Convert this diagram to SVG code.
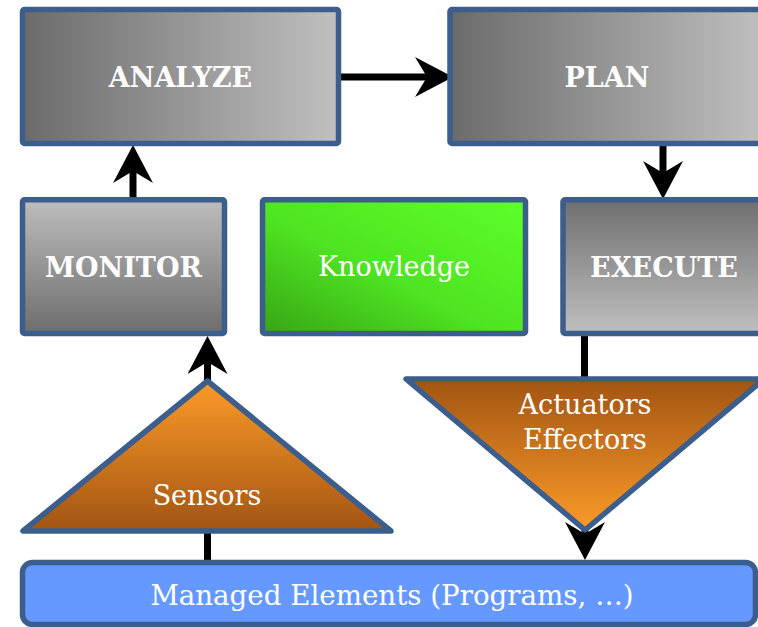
<svg xmlns="http://www.w3.org/2000/svg" width="758" height="627" viewBox="0 0 758 627">
<defs>
<linearGradient id="gH" x1="0" y1="0" x2="1" y2="0"><stop offset="0" stop-color="#6b6b6b"/><stop offset="1" stop-color="#c0c0c0"/></linearGradient>
<linearGradient id="gDown" x1="0" y1="0" x2="0" y2="1"><stop offset="0" stop-color="#bdbdbd"/><stop offset="1" stop-color="#6d6d6d"/></linearGradient>
<linearGradient id="gUp" x1="0" y1="0" x2="0" y2="1"><stop offset="0" stop-color="#6f6f6f"/><stop offset="1" stop-color="#bfbfbf"/></linearGradient>
<linearGradient id="gGreen" x1="1" y1="0" x2="0" y2="1"><stop offset="0" stop-color="#5dff2a"/><stop offset="0.55" stop-color="#4ee421"/><stop offset="1" stop-color="#37a515"/></linearGradient>
<linearGradient id="gSens" x1="0" y1="0" x2="0" y2="1"><stop offset="0" stop-color="#fb9b28"/><stop offset="1" stop-color="#a25413"/></linearGradient>
<linearGradient id="gAct" x1="0" y1="0" x2="0" y2="1"><stop offset="0" stop-color="#a25413"/><stop offset="1" stop-color="#fb9b28"/></linearGradient>
<marker id="arr" viewBox="0 0 38 40" refX="12" refY="20" markerWidth="38" markerHeight="40" markerUnits="userSpaceOnUse" orient="auto"><path d="M38,20 L0,0 L12,20 L0,40 Z" fill="#000"/></marker>
</defs>
<style>
.box{stroke:#3b5e8c;stroke-width:5.5;stroke-linejoin:round}
.conn{stroke:#000;stroke-width:7;fill:none}
.b{font-family:"DejaVu Serif",serif;font-weight:bold;font-size:27px;fill:#fff;text-anchor:middle}
.r{font-family:"DejaVu Serif",serif;font-size:27px;fill:#fff;text-anchor:middle}
</style>
<g id="connectors">
<line class="conn" x1="341" y1="77" x2="427" y2="77" marker-end="url(#arr)"/>
<line class="conn" x1="663" y1="146" x2="663" y2="173" marker-end="url(#arr)"/>
<line class="conn" x1="133" y1="198" x2="133" y2="171" marker-end="url(#arr)"/>
<line class="conn" x1="207.5" y1="382" x2="207.5" y2="362" marker-end="url(#arr)"/>
<line class="conn" x1="207.5" y1="530" x2="207.5" y2="563"/>
<line class="conn" x1="584.5" y1="334" x2="584.5" y2="381"/>
<line class="conn" x1="585" y1="528" x2="585" y2="534" marker-end="url(#arr)"/>
</g>
<g id="analyze"><rect class="box" x="22.5" y="9.5" width="316" height="134" rx="2" fill="url(#gH)"/><text class="b" x="180.5" y="86.5">ANALYZE</text></g>
<g id="plan"><rect class="box" x="450" y="9.5" width="316" height="134" rx="2" fill="url(#gH)"/><text class="b" x="607" y="86.5">PLAN</text></g>
<g id="monitor"><rect class="box" x="22.5" y="199.8" width="202" height="133.7" rx="2" fill="url(#gDown)"/><text class="b" x="123.5" y="276.5">MONITOR</text></g>
<g id="knowledge"><rect class="box" x="262.5" y="199.8" width="263" height="133.7" rx="2" fill="url(#gGreen)"/><text class="r" x="394" y="276">Knowledge</text></g>
<g id="execute"><rect class="box" x="563" y="199.8" width="202" height="133.7" rx="2" fill="url(#gUp)"/><text class="b" x="664" y="276.5">EXECUTE</text></g>
<g id="sensors"><polygon class="box" points="207.5,381 23,531 391,531" fill="url(#gSens)"/><text class="r" x="207" y="505">Sensors</text></g>
<g id="actuators"><polygon class="box" points="406,379 764,379 585,530" fill="url(#gAct)"/><text class="r" x="585" y="414">Actuators</text><text class="r" x="585" y="449">Effectors</text></g>
<g id="managed"><rect class="box" x="22.5" y="562.5" width="733" height="62" rx="10" fill="#6699ff"/><text class="r" x="392" y="605" style="font-size:27.7px">Managed Elements (Programs, …)</text></g>
</svg>
